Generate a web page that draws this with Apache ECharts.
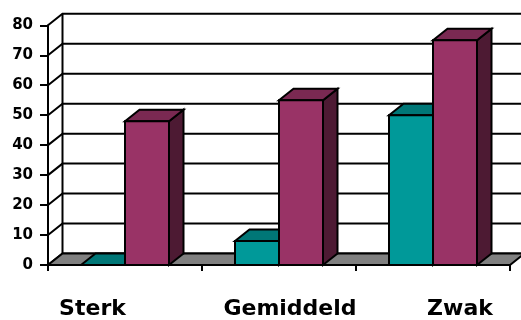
<!DOCTYPE html>
<html>
<head>
<meta charset="utf-8">
<script src="https://cdn.jsdelivr.net/npm/echarts@6/dist/echarts.min.js"></script>
<style>
  html, body { margin: 0; padding: 0; background: #ffffff; }
  #chart { width: 521px; height: 320px; }
</style>
</head>
<body>
<div id="chart"></div>
<script>
// Categories and series values
const categories = ['Sterk', 'Gemiddeld', 'Zwak'];
const tealValues = [0, 8, 50];
const maroonValues = [48, 55, 75];
const yTicks = [0, 10, 20, 30, 40, 50, 60, 70, 80];

// Depth offset of the pseudo-3D walls and boxes (pixels)
const DX = 14.5, DY = -11.5;
const LINE = '#000000';
const LW = 2;

const tealColors = { front: '#009999', top: '#007777', side: '#005252' };
const maroonColors = { front: '#993366', top: '#7a2952', side: '#4d1a33' };

function bandWidth(api) { return api.size([1, 0])[0]; }

// Back wall and left wall grid lines
function renderWalls(params, api) {
  const v = api.value(1);
  const band = bandWidth(api);
  const p = api.coord([0, v]);
  const left = p[0] - band / 2;
  const right = api.coord([categories.length - 1, v])[0] + band / 2 + DX;
  const children = [{
    type: 'polyline',
    shape: { points: [[left, p[1]], [left + DX, p[1] + DY], [right, p[1] + DY]] },
    style: { stroke: LINE, lineWidth: LW, fill: null, lineJoin: 'miter' }
  }];
  if (v === yTicks[0]) {
    const top = api.coord([0, yTicks[yTicks.length - 1]])[1];
    children.push({
      type: 'line',
      shape: { x1: left + DX, y1: p[1] + DY, x2: left + DX, y2: top + DY },
      style: { stroke: LINE, lineWidth: LW }
    });
  }
  return { type: 'group', children: children };
}

// Grey floor
function renderFloor(params, api) {
  const band = bandWidth(api);
  const p0 = api.coord([0, 0]);
  const left = p0[0] - band / 2;
  const right = api.coord([categories.length - 1, 0])[0] + band / 2;
  const y = p0[1];
  return {
    type: 'polygon',
    shape: { points: [[left, y], [right, y], [right + DX, y + DY], [left + DX, y + DY]] },
    style: { fill: '#808080', stroke: LINE, lineWidth: LW, lineJoin: 'miter' }
  };
}

// 3D box bars: slot 0 = teal, slot 1 = maroon
function makeBarRenderer(slot, colors) {
  return function (params, api) {
    const ci = api.value(0);
    const v = api.value(1);
    const band = bandWidth(api);
    const bw = band / 3.5;
    const top = api.coord([ci, v]);
    const base = api.coord([ci, 0]);
    const x0 = top[0] - band / 2 + 0.75 * bw + slot * bw;
    const x1 = x0 + bw;
    const yT = top[1], yB = base[1];
    const st = { stroke: LINE, lineWidth: LW, lineJoin: 'miter' };
    return {
      type: 'group',
      children: [
        { type: 'polygon', shape: { points: [[x1, yT], [x1 + DX, yT + DY], [x1 + DX, yB + DY], [x1, yB]] },
          style: Object.assign({ fill: colors.side }, st) },
        { type: 'polygon', shape: { points: [[x0, yT], [x0 + DX, yT + DY], [x1 + DX, yT + DY], [x1, yT]] },
          style: Object.assign({ fill: colors.top }, st) },
        { type: 'polygon', shape: { points: [[x0, yT], [x1, yT], [x1, yB], [x0, yB]] },
          style: Object.assign({ fill: colors.front }, st) }
      ]
    };
  };
}

// Per-label horizontal shifts of the category captions
const labelRich = {
  a: { fontFamily: 'DejaVu Sans', fontWeight: 'bold', fontSize: 22, color: '#000', padding: [0, 65, 0, 0] },
  b: { fontFamily: 'DejaVu Sans', fontWeight: 'bold', fontSize: 22, color: '#000', padding: [0, 0, 0, 22] },
  c: { fontFamily: 'DejaVu Sans', fontWeight: 'bold', fontSize: 22, color: '#000', padding: [0, 0, 0, 54] }
};
const labelKeys = ['a', 'b', 'c'];

const chart = echarts.init(document.getElementById('chart'), null, { renderer: 'canvas' });
chart.setOption({
  animation: false,
  backgroundColor: '#ffffff',
  grid: { left: 48, right: 11, top: 25.3, bottom: 53.5, containLabel: false },
  xAxis: {
    type: 'category',
    data: categories,
    boundaryGap: true,
    axisLine: { show: true, lineStyle: { color: LINE, width: LW } },
    axisTick: { show: true, length: 6, alignWithLabel: false, lineStyle: { color: LINE, width: LW } },
    axisLabel: {
      margin: 33,
      formatter: function (value, idx) { return '{' + labelKeys[idx] + '|' + value + '}'; },
      rich: labelRich
    },
    splitLine: { show: false }
  },
  yAxis: {
    type: 'value',
    min: 0, max: 80, interval: 10,
    axisLine: { show: true, lineStyle: { color: LINE, width: LW } },
    axisTick: { show: true, length: 8, inside: false, lineStyle: { color: LINE, width: LW } },
    axisLabel: { margin: 15, color: '#000', fontFamily: 'DejaVu Sans', fontWeight: 'bold', fontSize: 15 },
    splitLine: { show: false }
  },
  series: [
    { type: 'custom', z: 1, silent: true, renderItem: renderWalls,
      encode: { x: 0, y: 1 }, data: yTicks.map(function (v) { return [0, v]; }) },
    { type: 'custom', z: 2, silent: true, renderItem: renderFloor,
      encode: { x: 0, y: 1 }, data: [[0, 0]] },
    { type: 'custom', z: 3, name: 'teal', renderItem: makeBarRenderer(0, tealColors),
      encode: { x: 0, y: 1 }, data: tealValues.map(function (v, i) { return [i, v]; }) },
    { type: 'custom', z: 4, name: 'maroon', renderItem: makeBarRenderer(1, maroonColors),
      encode: { x: 0, y: 1 }, data: maroonValues.map(function (v, i) { return [i, v]; }) }
  ]
});
</script>
</body>
</html>
